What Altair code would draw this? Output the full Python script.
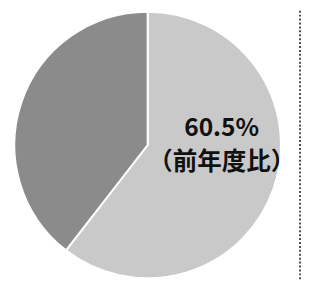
import altair as alt
import pandas as pd

categories = ["前年度比", "残り"]
values = [60.5, 39.5]
colors = ["#c9c9c9", "#8b8b8b"]
label_lines = ["60.5%", "（前年度比）"]

df = pd.DataFrame({"cat": categories, "val": values, "order": [0, 1]})

cx, cy, r = 142.5, 137, 136

pie = alt.Chart(df).mark_arc(radius=r, stroke="white", strokeWidth=2).encode(
    theta=alt.Theta("val:Q", stack=True),
    order=alt.Order("order:Q"),
    color=alt.Color("cat:N", scale=alt.Scale(domain=categories, range=colors), legend=None),
    x=alt.value(cx),
    y=alt.value(cy),
)

tdf = pd.DataFrame({"t": label_lines, "yy": [120, 154]})
text = alt.Chart(tdf).mark_text(
    font="Noto Sans CJK JP", fontWeight="bold", fontSize=25, color="#111111",
    align="center", baseline="middle"
).encode(
    text="t:N",
    x=alt.value(218),
    y=alt.Y("yy:Q", scale=None),
)

dash = alt.Chart(pd.DataFrame({"a": [0]})).mark_rule(
    color="#222222", strokeWidth=1.6, strokeDash=[2, 2]
).encode(x=alt.value(298), y=alt.value(0), y2=alt.value(274))

chart = alt.layer(pie, text, dash).properties(
    width=300, height=274, autosize=alt.AutoSizeParams(type="none"), padding=0
).configure_view(stroke=None)

chart.save("out.html", embed_options={"renderer": "svg", "actions": False})
